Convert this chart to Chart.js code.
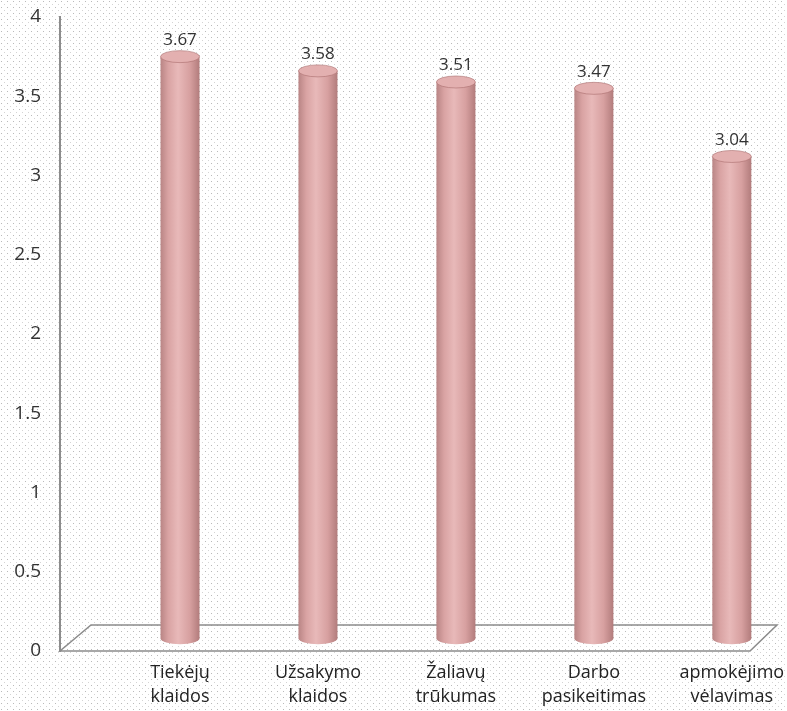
<!DOCTYPE html>
<html>
<head>
<meta charset="utf-8">
<script src="https://cdn.jsdelivr.net/npm/chart.js@4.4.1/dist/chart.umd.min.js"></script>
<style>
  html, body { margin: 0; padding: 0; background: #fff; }
  #wrap { width: 787px; height: 711px; }
</style>
</head>
<body>
<div id="wrap"><canvas id="myChart" width="787" height="711"></canvas></div>
<script>
const categories = [
    ['Tiekėjų', 'klaidos'],
    ['Užsakymo', 'klaidos'],
    ['Žaliavų', 'trūkumas'],
    ['Darbo', 'pasikeitimas'],
    ['apmokėjimo', 'vėlavimas']
];
const values = [3.67, 3.58, 3.51, 3.47, 3.04];
const yTicks = [0, 0.5, 1, 1.5, 2, 2.5, 3, 3.5, 4];

// dotted background like the original picture
function dotPattern(ctx) {
    const p = document.createElement('canvas');
    p.width = 6; p.height = 6;
    const c = p.getContext('2d');
    c.fillStyle = '#ffffff';
    c.fillRect(0, 0, 6, 6);
    c.fillStyle = 'rgba(140,140,140,0.6)';
    c.fillRect(1, 1, 1, 1);
    c.fillStyle = 'rgba(160,160,160,0.45)';
    c.fillRect(4, 4, 1, 1);
    return ctx.createPattern(p, 'repeat');
}

const background = {
    id: 'background',
    beforeDraw(chart) {
        const ctx = chart.ctx;
        ctx.save();
        ctx.fillStyle = dotPattern(ctx);
        ctx.fillRect(0, 0, chart.width, chart.height);
        ctx.restore();
    }
};

// 3D floor under the bars
const floor = {
    id: 'floor',
    beforeDatasetsDraw(chart) {
        const ctx = chart.ctx;
        const area = chart.chartArea;
        const y0 = chart.scales.y.getPixelForValue(0);
        const dx = 31, dy = 26;
        ctx.save();
        ctx.strokeStyle = '#8c8c8c';
        ctx.lineWidth = 1.5;
        ctx.beginPath();
        ctx.moveTo(area.left, y0);
        ctx.lineTo(area.right - 37, y0);
        ctx.lineTo(area.right - 10, y0 - dy);
        ctx.lineTo(area.left + dx, y0 - dy);
        ctx.closePath();
        ctx.stroke();
        ctx.restore();
    }
};

// bars drawn as pink cylinders, with value labels on top
const cylinders = {
    id: 'cylinders',
    afterDatasetsDraw(chart) {
        const ctx = chart.ctx;
        const meta = chart.getDatasetMeta(0);
        ctx.save();
        meta.data.forEach(function(bar, i) {
            const w = bar.width;
            const l = bar.x - w / 2;
            const r = bar.x + w / 2;
            const ry = 6;
            const g = ctx.createLinearGradient(l, 0, r, 0);
            g.addColorStop(0, '#b98585');
            g.addColorStop(0.2, '#d9a3a3');
            g.addColorStop(0.45, '#e8b9b9');
            g.addColorStop(0.75, '#d7a0a0');
            g.addColorStop(1, '#b27c7c');
            ctx.fillStyle = g;
            ctx.beginPath();
            ctx.moveTo(l, bar.y);
            ctx.lineTo(l, bar.base);
            ctx.ellipse(bar.x, bar.base, w / 2, ry, 0, Math.PI, 0, true);
            ctx.lineTo(r, bar.y);
            ctx.closePath();
            ctx.fill();

            ctx.fillStyle = '#e3b0b0';
            ctx.beginPath();
            ctx.ellipse(bar.x, bar.y, w / 2, ry, 0, 0, Math.PI * 2);
            ctx.fill();
            ctx.strokeStyle = 'rgba(170,110,110,0.6)';
            ctx.lineWidth = 1;
            ctx.stroke();

            ctx.fillStyle = '#333';
            ctx.font = '17px "Open Sans"';
            ctx.textAlign = 'center';
            ctx.textBaseline = 'bottom';
            ctx.fillText(values[i].toFixed(2), bar.x, bar.y - ry - 2);
        });
        ctx.restore();
    }
};

const ctx = document.getElementById('myChart').getContext('2d');
new Chart(ctx, {
    type: 'bar',
    data: {
        datasets: [{
            label: '',
            data: values.map(function(v, i) { return { x: i + 1, y: v }; }),
            backgroundColor: 'rgba(0,0,0,0)',
            barThickness: 39,
            yAxisID: 'yb'
        }]
    },
    options: {
        responsive: false,
        animation: false,
        layout: {
            padding: { top: 17, right: 0, bottom: 0, left: 0 }
        },
        plugins: {
            legend: { display: false },
            tooltip: { enabled: false }
        },
        scales: {
            x: {
                type: 'linear',
                offset: false,
                min: 0.13,
                max: 5.4,
                afterBuildTicks: function(scale) {
                    scale.ticks = categories.map(function(c, i) { return { value: i + 1 }; });
                },
                afterFit: function(scale) {
                    scale.height = 60;
                    scale.paddingLeft = 0;
                    scale.paddingRight = 0;
                },
                ticks: {
                    callback: function(value) { return categories[value - 1]; },
                    font: { family: 'Open Sans', size: 18, lineHeight: 1.33 },
                    color: '#222',
                    padding: 10,
                    maxRotation: 0,
                    autoSkip: false
                },
                grid: { display: false, drawTicks: false },
                border: { display: false }
            },
            y: {
                min: 0,
                max: 4,
                afterBuildTicks: function(scale) {
                    scale.ticks = yTicks.map(function(v) { return { value: v }; });
                },
                afterFit: function(scale) {
                    scale.width = 60;
                    scale.paddingTop = 0;
                    scale.paddingBottom = 0;
                },
                ticks: {
                    callback: function(value) { return String(value); },
                    font: { family: 'Open Sans', size: 19 },
                    color: '#333',
                    padding: 19
                },
                grid: { display: false, drawTicks: false },
                border: { display: true, color: '#8c8c8c', width: 2 }
            },
            yb: {
                display: false,
                min: -0.08,
                max: 3.92
            }
        }
    },
    plugins: [background, floor, cylinders]
});
</script>
</body>
</html>
